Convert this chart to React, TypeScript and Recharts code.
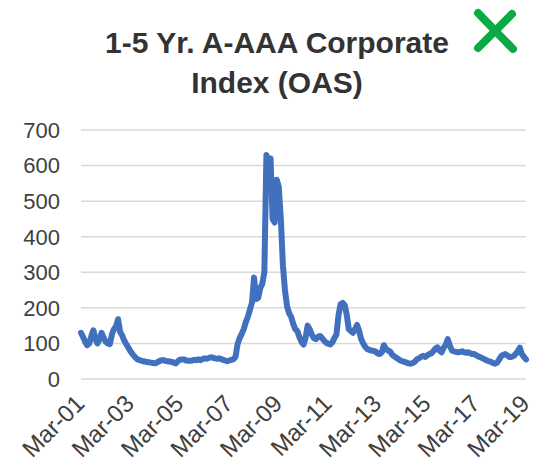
import { LineChart, Line, XAxis, YAxis, CartesianGrid } from 'recharts'

// monthly spread (bp), Mar-01 .. Mar-19, one row per year starting in March
const oas2001 = [130, 118, 105, 95, 100, 120, 137, 112, 100, 112, 130, 115]
const oas2002 = [105, 100, 98, 125, 140, 148, 168, 132, 122, 108, 98, 88]
const oas2003 = [78, 70, 63, 57, 54, 52, 50, 49, 48, 47, 46, 45]
const oas2004 = [44, 47, 50, 53, 53, 51, 50, 49, 48, 46, 44, 50]
const oas2005 = [54, 55, 55, 52, 51, 51, 52, 54, 53, 55, 53, 56]
const oas2006 = [58, 57, 59, 61, 60, 58, 57, 58, 56, 54, 52, 50]
const oas2007 = [52, 54, 56, 62, 98, 115, 127, 140, 160, 175, 195, 215]
const oas2008 = [285, 225, 228, 255, 268, 300, 630, 600, 620, 450, 440, 560]
const oas2009 = [540, 450, 320, 250, 205, 185, 175, 155, 140, 135, 118, 105]
const oas2010 = [97, 115, 150, 140, 125, 115, 112, 118, 121, 115, 108, 102]
const oas2011 = [99, 97, 103, 115, 125, 180, 210, 214, 208, 180, 140, 135]
const oas2012 = [130, 140, 152, 135, 112, 100, 90, 84, 82, 80, 79, 77]
const oas2013 = [72, 70, 75, 95, 85, 80, 78, 68, 64, 60, 56, 52]
const oas2014 = [50, 48, 46, 44, 43, 45, 48, 55, 58, 62, 65, 62]
const oas2015 = [66, 70, 72, 78, 85, 89, 80, 75, 88, 95, 112, 95]
const oas2016 = [80, 78, 76, 75, 76, 78, 75, 74, 75, 72, 70, 70]
const oas2017 = [66, 63, 61, 58, 55, 52, 50, 48, 45, 43, 46, 55]
const oas2018 = [65, 68, 70, 66, 62, 62, 65, 70, 78, 88, 70, 62]
const oas2019 = [55]

const monthNames = ['Mar', 'Apr', 'May', 'Jun', 'Jul', 'Aug', 'Sep', 'Oct', 'Nov', 'Dec', 'Jan', 'Feb']
const xTicks = ['Mar-01', 'Mar-03', 'Mar-05', 'Mar-07', 'Mar-09', 'Mar-11', 'Mar-13', 'Mar-15', 'Mar-17', 'Mar-19']
const yTicks = [0, 100, 200, 300, 400, 500, 600, 700]

const series = [
  oas2001, oas2002, oas2003, oas2004, oas2005, oas2006, oas2007, oas2008, oas2009, oas2010,
  oas2011, oas2012, oas2013, oas2014, oas2015, oas2016, oas2017, oas2018, oas2019,
]

const data = series.flatMap((row, yi) =>
  row.map((v, mi) => {
    const yr = 2001 + yi + (mi >= 10 ? 1 : 0)
    return { date: `${monthNames[mi]}-${String(yr % 100).padStart(2, '0')}`, oas: v }
  })
)

const FONT = '"Liberation Sans", Arial, sans-serif'

function DateTick(props: any) {
  const { x, y, payload } = props
  const tx = x + 5
  const ty = y + 26
  return (
    <text x={tx} y={ty} textAnchor="end" fontSize={24} fill="#404040" fontFamily={FONT} transform={`rotate(-45 ${tx} ${ty})`}>
      {payload.value}
    </text>
  )
}

export default function App() {
  return (
    <div style={{ position: 'absolute', left: 0, top: 0, width: 537, height: 463, background: '#fff' }}>
      <LineChart width={537} height={463} data={data} margin={{ top: 130, right: 11, bottom: 0, left: 0 }}>
        <CartesianGrid vertical={false} stroke="#d9d9d9" strokeWidth={1.5} />
        <XAxis
          dataKey="date"
          ticks={xTicks}
          interval={0}
          axisLine={false}
          tickLine={false}
          tickSize={0}
          tickMargin={0}
          height={84}
          tick={<DateTick />}
        />
        <YAxis
          domain={[0, 700]}
          ticks={yTicks}
          axisLine={false}
          tickLine={false}
          tickSize={0}
          tickMargin={21}
          width={81}
          tick={{ fill: '#404040', fontSize: 22, fontFamily: FONT }}
        />
        <Line
          type="linear"
          dataKey="oas"
          stroke="#4170bf"
          strokeWidth={6}
          strokeLinejoin="round"
          strokeLinecap="round"
          dot={false}
          isAnimationActive={false}
        />
      </LineChart>
      <svg width={537} height={120} style={{ position: 'absolute', left: 0, top: 0, pointerEvents: 'none' }}>
        <text x={277} y={53} textAnchor="middle" fontSize={30} fontWeight="bold" fill="#333333" fontFamily={FONT}>
          1-5 Yr. A-AAA Corporate
        </text>
        <text x={277} y={93} textAnchor="middle" fontSize={30} fontWeight="bold" fill="#333333" fontFamily={FONT}>
          Index (OAS)
        </text>
        <g stroke="#0aab44" strokeWidth={8} strokeLinecap="round">
          <line x1={478} y1={13} x2={513} y2={49} />
          <line x1={512} y1={14} x2={478} y2={48} />
        </g>
      </svg>
    </div>
  )
}
